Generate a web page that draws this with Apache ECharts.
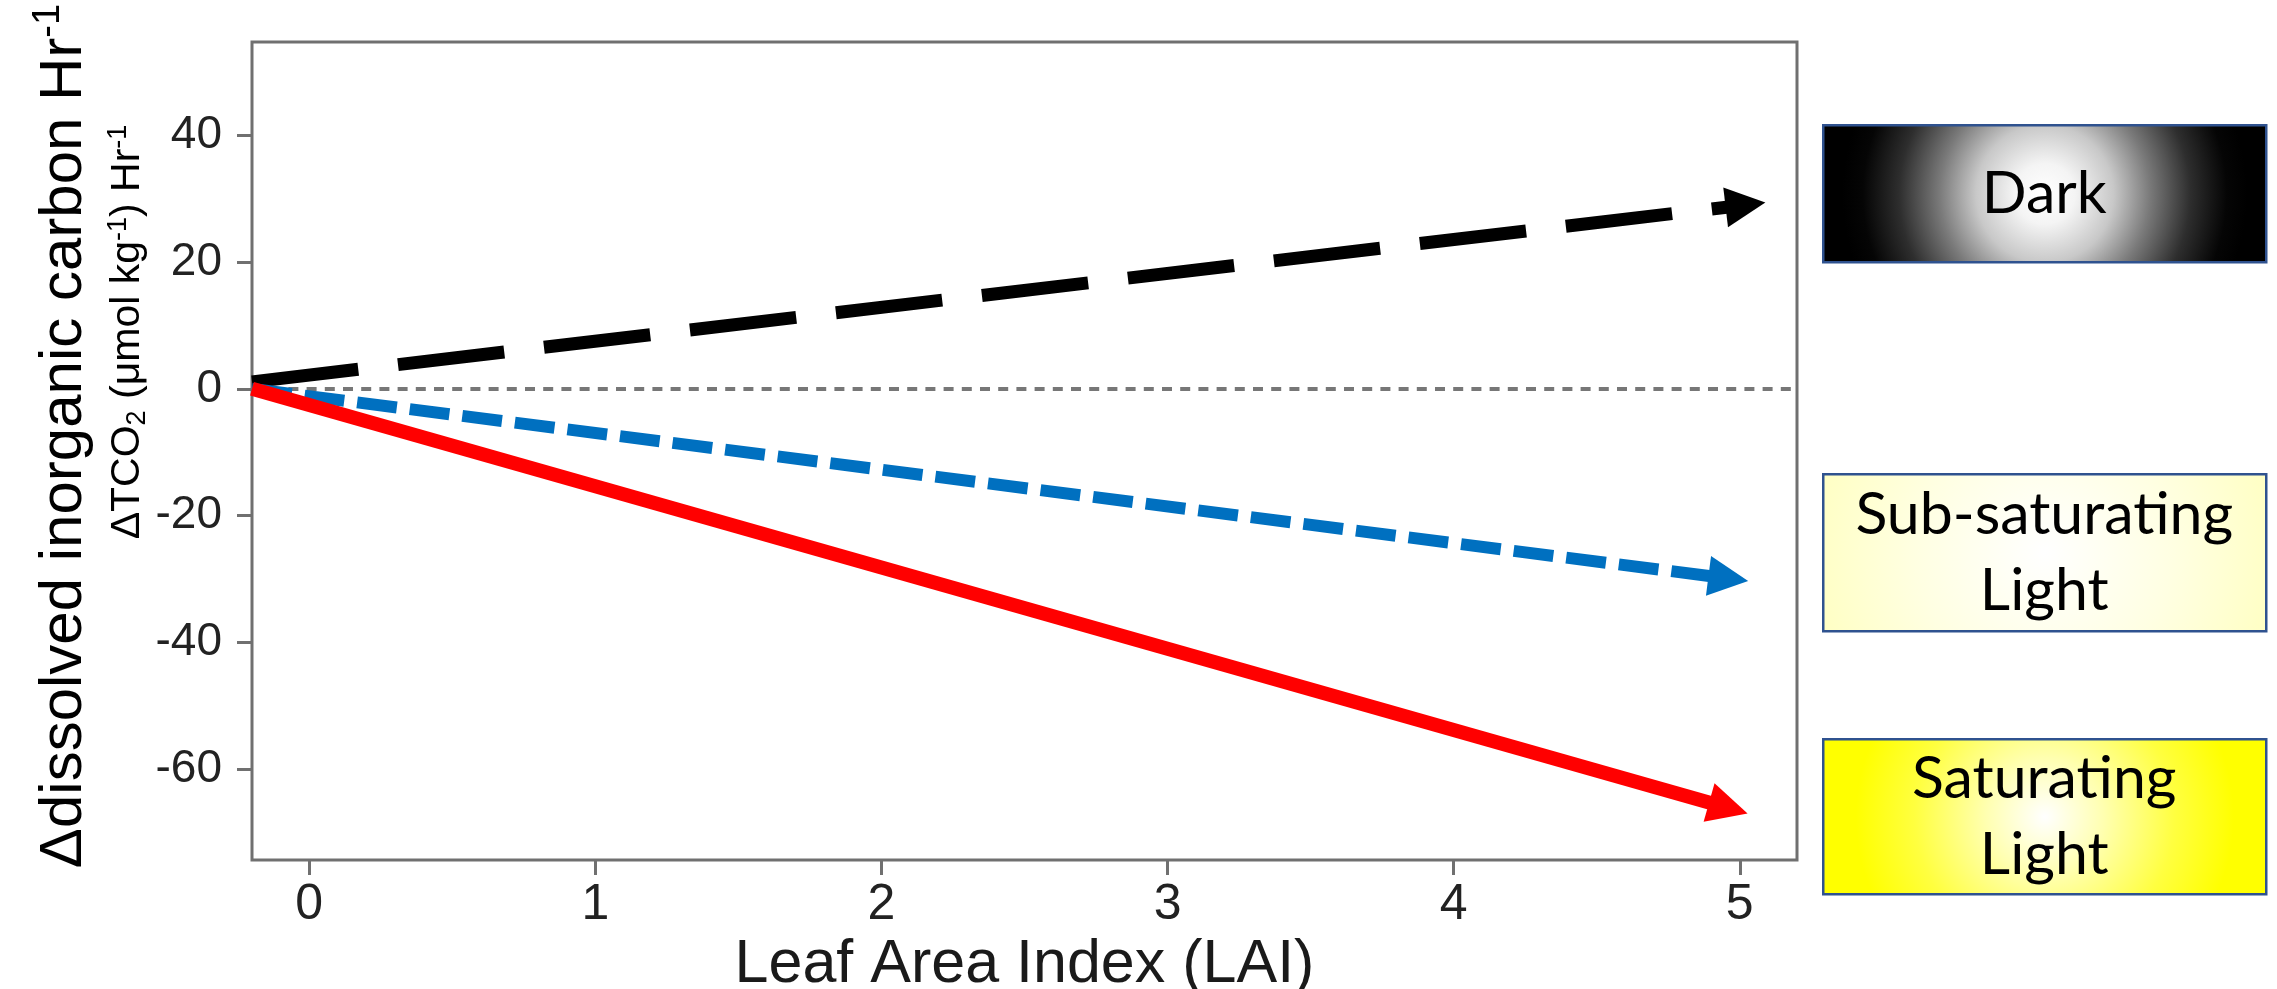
<!DOCTYPE html>
<html>
<head>
<meta charset="utf-8">
<title>LAI vs dissolved inorganic carbon</title>
<script src="https://cdn.jsdelivr.net/npm/echarts@6.0.0/dist/echarts.min.js"></script>
<style>
  html, body { margin: 0; padding: 0; background: #fff; }
  #main { width: 2277px; height: 989px; }
</style>
</head>
<body>
<div id="main"></div>
<script>
// axis ticks
const xTicks = [0, 1, 2, 3, 4, 5];
const yTicks = [-60, -40, -20, 0, 20, 40];

// arrows: [start, end] in (LAI, dTCO2) units, end = centre of arrow head
const darkLine = [[-0.2, 1.1], [5.02, 29.0]];
const subSatLine = [[-0.2, 0], [4.96, -29.9]];
const satLine = [[-0.2, 0], [4.96, -66.1]];

const boxLabels = ['Dark', 'Sub-saturating\nLight', 'Saturating\nLight'];

const axisFont = "'Liberation Sans', Arial, sans-serif";
const narrowFont = "'Liberation Sans Narrow', 'Liberation Sans', Arial, sans-serif";
const boxFont = "Lato, 'Open Sans', sans-serif";

var myChart = echarts.init(document.getElementById('main'));

function arrow(name, pts, color, width, dash) {
  return {
    name: name,
    type: 'lines',
    coordinateSystem: 'cartesian2d',
    data: [{ coords: pts }],
    symbol: ['none', 'triangle'],
    symbolSize: 40,
    lineStyle: { color: color, width: width, type: dash, opacity: 1, cap: 'butt' },
    silent: true,
    z: 5
  };
}

function legendBox(top, h, label, fill) {
  return {
    type: 'group',
    left: 1822,
    top: top,
    children: [
      {
        type: 'rect',
        shape: { x: 0, y: 0, width: 443, height: h },
        style: { fill: fill, stroke: '#2F528F', lineWidth: 2.5 }
      },
      {
        type: 'text',
        x: 221, y: h / 2,
        style: {
          text: label, fill: '#000', font: '59px ' + boxFont,
          align: 'center', verticalAlign: 'middle', lineHeight: 76
        }
      }
    ]
  };
}

function radial(r, stops) {
  return {
    type: 'radial', x: 0.5, y: 0.5, r: r,
    colorStops: stops.map(function (s) { return { offset: s[0], color: s[1] }; })
  };
}

myChart.setOption({
  animation: false,
  grid: {
    left: 252, right: 480, top: 42, bottom: 129,
    show: true, borderColor: '#707070', borderWidth: 3,
    outerBoundsMode: 'none'
  },
  xAxis: {
    type: 'value', min: -0.2, max: 5.2,
    name: 'Leaf Area Index (LAI)', nameLocation: 'middle', nameGap: 62,
    nameTextStyle: { fontSize: 61, fontFamily: axisFont, color: '#1a1a1a' },
    axisLine: { show: false, onZero: false },
    axisTick: { show: true, inside: false, length: 15, customValues: xTicks,
      lineStyle: { color: '#707070', width: 3 } },
    axisLabel: { customValues: xTicks, margin: 20, fontSize: 50,
      fontFamily: narrowFont, color: '#222' },
    splitLine: { show: false }
  },
  yAxis: {
    type: 'value', min: -74.3, max: 54.7,
    axisLine: { show: false, onZero: false },
    axisTick: { show: true, inside: false, length: 15, customValues: yTicks,
      lineStyle: { color: '#707070', width: 3 } },
    axisLabel: { customValues: yTicks, margin: 30, fontSize: 46,
      fontFamily: axisFont, color: '#222' },
    splitLine: { show: false }
  },
  series: [
    {
      name: 'zero',
      type: 'line',
      data: [],
      markLine: {
        silent: true, symbol: 'none', label: { show: false },
        lineStyle: { color: '#777', width: 4, type: [10, 8.2] },
        data: [{ yAxis: 0 }]
      }
    },
    arrow('Dark', darkLine, '#000000', 13, [107, 40]),
    arrow('Sub-saturating', subSatLine, '#0070C0', 12, [40, 13]),
    arrow('Saturating', satLine, '#FF0000', 14, 'solid')
  ],
  graphic: [
    // y axis titles
    {
      type: 'text', x: 62, y: 436, rotation: Math.PI / 2,
      style: {
        text: '{t|Δdissolved inorganic carbon Hr}{s|-1}',
        align: 'center', verticalAlign: 'middle',
        rich: {
          t: { fontSize: 60, fontFamily: axisFont, color: '#1a1a1a', lineHeight: 64, verticalAlign: 'bottom' },
          s: { fontSize: 38, fontFamily: axisFont, color: '#1a1a1a', lineHeight: 64, verticalAlign: 'top' }
        }
      }
    },
    {
      type: 'text', x: 128, y: 332, rotation: Math.PI / 2,
      style: {
        text: '{t|ΔTCO}{b|2}{t| (μmol kg}{s|-1}{t|) Hr}{s|-1}',
        align: 'center', verticalAlign: 'middle',
        rich: {
          t: { fontSize: 41, fontFamily: axisFont, color: '#1a1a1a', lineHeight: 46, verticalAlign: 'middle' },
          s: { fontSize: 27, fontFamily: axisFont, color: '#1a1a1a', lineHeight: 46, verticalAlign: 'top' },
          b: { fontSize: 27, fontFamily: axisFont, color: '#1a1a1a', lineHeight: 38, verticalAlign: 'bottom' }
        }
      }
    },
    // light condition boxes
    legendBox(124, 137, boxLabels[0], radial(1.45, [
      [0, '#ffffff'], [0.15, '#f4f4f4'], [0.34, '#c8c8c8'], [0.52, '#7a7a7a'],
      [0.72, '#2e2e2e'], [0.9, '#050505'], [1, '#000000']
    ])),
    legendBox(473, 157, boxLabels[1], radial(1.6, [
      [0, '#ffffff'], [0.5, '#ffffe2'], [1, '#ffffbe']
    ])),
    legendBox(738, 155, boxLabels[2], radial(1.5, [
      [0, '#ffffff'], [0.25, '#ffffb0'], [0.55, '#ffff40'], [0.8, '#ffff00'], [1, '#ffff00']
    ]))
  ]
});
</script>
</body>
</html>
